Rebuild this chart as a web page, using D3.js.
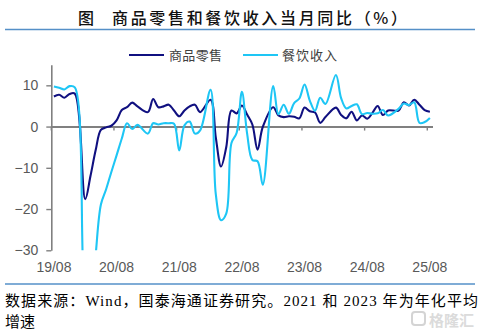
<!DOCTYPE html>
<html><head><meta charset="utf-8">
<script src="https://cdn.jsdelivr.net/npm/d3@7"></script>
<style>html,body{margin:0;padding:0;background:#fff;} svg{display:block;}</style>
</head><body>
<svg id="c" width="483" height="330"></svg>
<script>
// ---- data ----
const months = [
 "19/08","19/09","19/10","19/11","19/12",
 "20/01","20/02","20/03","20/04","20/05","20/06","20/07","20/08","20/09","20/10","20/11","20/12",
 "21/01","21/02","21/03","21/04","21/05","21/06","21/07","21/08","21/09","21/10","21/11","21/12",
 "22/01","22/02","22/03","22/04","22/05","22/06","22/07","22/08","22/09","22/10","22/11","22/12",
 "23/01","23/02","23/03","23/04","23/05","23/06","23/07","23/08","23/09","23/10","23/11","23/12",
 "24/01","24/02","24/03","24/04","24/05","24/06","24/07","24/08","24/09","24/10","24/11","24/12",
 "25/01","25/02","25/03","25/04","25/05","25/06","25/07","25/08"
];
// 商品零售 当月同比 (%), Jan merged into Feb (null)
const goods = [
 7.3,7.7,7.0,7.9,8.0,
 null,-17.6,-12.0,-5.7,-0.8,-0.2,0.2,1.5,4.0,4.7,5.8,4.9,
 null,3.5,6.7,4.7,4.9,5.3,3.9,2.5,3.9,4.9,5.3,3.5,
 null,6.5,-2.6,-9.7,-5.0,3.9,3.2,5.1,2.9,0.5,-5.6,-0.1,
 null,4.7,2.7,2.3,2.5,2.4,2.0,4.6,3.7,3.4,0.9,2.3,
 null,4.6,2.8,2.0,3.6,1.5,2.7,1.9,3.3,5.0,2.8,3.9,
 null,3.9,5.9,5.1,6.5,5.3,4.0,3.6
];
// 餐饮收入 当月同比 (%)
const catering = [
 9.7,9.4,9.0,9.8,9.5,
 null,-43.1,-46.8,-31.1,-18.9,-15.2,-11.0,-7.0,-2.9,0.8,-0.6,0.4,
 null,-1.7,0.8,0.5,0.8,0.8,0.7,-5.8,0.3,1.2,-1.7,-0.9,
 null,8.9,-16.4,-22.7,-21.1,-4.0,-1.5,8.4,-1.7,-8.1,-8.4,-14.1,
 null,9.8,3.0,5.3,3.1,5.7,6.8,10.2,6.3,3.8,7.0,5.5,
 null,12.5,6.9,4.4,5.0,5.4,3.0,3.3,3.1,3.2,4.0,2.7,
 null,4.3,5.6,5.2,5.9,0.9,1.1,2.1
];
const seriesNames = ["商品零售","餐饮收入"];
const yTicks = [10,0,-10,-20,-30];
const xTickLabels = ["19/08","20/08","21/08","22/08","23/08","24/08","25/08"];
const titleLabel = "图";
const titleText = "商品零售和餐饮收入当月同比（%）";
const noteLine1 = "数据来源：Wind，国泰海通证券研究。2021 和 2023 年为年化平均";
const noteLine2 = "增速";
const watermarkText = "格隆汇";

// ---- layout ----
const W = 483, H = 330;
const L = 51.3, R = 432.5, T = 64.7, B = 250.3;
const cGoods = "#101080", cCater = "#1ec6f5", axisC = "#808080", ruleC = "#5590c8";

const svg = d3.select("#c");
svg.append("rect").attr("width", W).attr("height", H).attr("fill", "#fff");

const x = d3.scaleBand().domain(months).range([L, R]).padding(0);
const y = d3.scaleLinear().domain([-30, 15]).range([B, T]);
const cx = m => x(m) + x.bandwidth() / 2;

// title
svg.append("text").attr("x", 78).attr("y", 24).text(titleLabel)
  .style("font", "500 16px 'Noto Sans CJK SC'").attr("fill", "#111");
svg.append("text").attr("x", 112).attr("y", 24).text(titleText)
  .attr("textLength", 295).attr("lengthAdjust", "spacing")
  .style("font", "500 16px 'Noto Sans CJK SC'").attr("fill", "#111");
svg.append("line").attr("x1", 5).attr("x2", 475).attr("y1", 29.5).attr("y2", 29.5)
  .attr("stroke", ruleC).attr("stroke-width", 1.5);

// legend
const legend = [
  {name: seriesNames[0], c: cGoods, x0: 129, x1: 164, tx: 169, tl: 53},
  {name: seriesNames[1], c: cCater, x0: 243, x1: 278, tx: 282, tl: 55}
];
legend.forEach(l => {
  svg.append("line").attr("x1", l.x0).attr("x2", l.x1).attr("y1", 55).attr("y2", 55)
    .attr("stroke", l.c).attr("stroke-width", 2.2);
  svg.append("text").attr("x", l.tx).attr("y", 60).text(l.name)
    .attr("textLength", l.tl).attr("lengthAdjust", "spacing")
    .style("font", "13px 'Noto Sans CJK SC'").attr("fill", "#404040");
});

// y axis
const gy = svg.append("g").attr("transform", `translate(${L},0)`)
  .call(d3.axisLeft(y).tickValues(yTicks).tickSize(5).tickSizeOuter(0).tickPadding(8));
gy.select(".domain").attr("stroke", axisC).attr("stroke-width", 1.6);
gy.selectAll(".tick line").attr("stroke", axisC).attr("stroke-width", 1.4);
gy.selectAll("text").style("font", "14px 'Liberation Sans', Arial").attr("fill", "#595959");

// x zero line with ticks at category boundaries
const gx = svg.append("g").attr("transform", `translate(0,${y(0)})`)
  .call(d3.axisBottom(x).tickValues(xTickLabels).tickSize(4).tickSizeOuter(0).tickFormat(""));
gx.selectAll(".tick").attr("transform", d => `translate(${x(d)},0)`);
gx.select(".domain").attr("stroke", axisC).attr("stroke-width", 2);
gx.selectAll(".tick line").attr("stroke", axisC).attr("stroke-width", 1.4);

// x labels at bottom
const gl = svg.append("g").attr("transform", `translate(0,${B})`)
  .call(d3.axisBottom(x).tickValues(xTickLabels).tickSize(0).tickPadding(11.8));
gl.select(".domain").remove();
gl.selectAll("text").style("font", "14px 'Liberation Sans', Arial").attr("fill", "#595959");

// lines
svg.append("clipPath").attr("id", "clip").append("rect")
  .attr("x", L).attr("y", T).attr("width", R - L).attr("height", B - T);
const line = d3.line().x(d => cx(d.m)).y(d => y(d.v)).curve(d3.curveCatmullRom.alpha(0.5));
const pts = arr => months.map((m, i) => ({m, v: arr[i]})).filter(d => d.v != null);
const gLines = svg.append("g").attr("clip-path", "url(#clip)");
gLines.append("path").datum(pts(goods)).attr("d", line)
  .attr("fill", "none").attr("stroke", cGoods).attr("stroke-width", 2.1);
gLines.append("path").datum(pts(catering)).attr("d", line)
  .attr("fill", "none").attr("stroke", cCater).attr("stroke-width", 2.1);

// footer
svg.append("line").attr("x1", 5).attr("x2", 475).attr("y1", 284).attr("y2", 284)
  .attr("stroke", ruleC).attr("stroke-width", 1.5);
svg.append("text").attr("x", 5).attr("y", 306).text(noteLine1)
  .attr("textLength", 473).attr("lengthAdjust", "spacing")
  .style("font", "15px 'Liberation Serif', 'Noto Sans CJK SC'").attr("fill", "#000");
svg.append("text").attr("x", 5).attr("y", 327).text(noteLine2)
  .style("font", "15px 'Liberation Serif', 'Noto Sans CJK SC'").attr("fill", "#000");

// watermark
const wm = svg.append("g").attr("opacity", 0.6);
wm.append("rect").attr("x", 412).attr("y", 312).attr("width", 13).attr("height", 13).attr("rx", 3)
  .attr("fill", "none").attr("stroke", "#b8b8b8").attr("stroke-width", 2);
wm.append("text").attr("x", 429).attr("y", 326).text(watermarkText)
  .style("font", "bold 15px 'Noto Sans CJK SC'").attr("fill", "#c4c4c4");
</script>
</body></html>
